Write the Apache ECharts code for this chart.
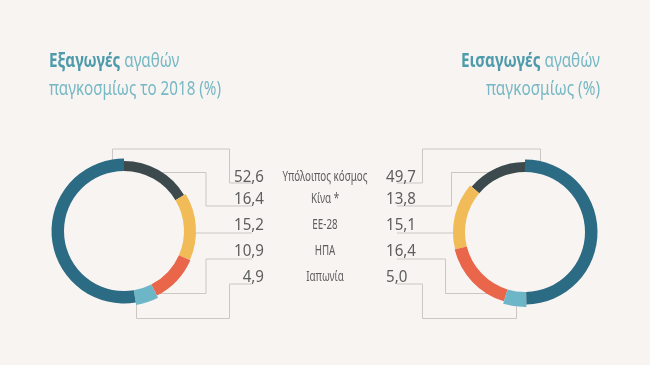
<!DOCTYPE html>
<html><head><meta charset="utf-8">
<script src="https://cdn.jsdelivr.net/npm/echarts@6/dist/echarts.min.js"></script>
<style>html,body{margin:0;padding:0;background:#f7f4f2;}#c{width:650px;height:365px;}</style>
</head><body><div id="c"></div>
<script>
// ---- data ----
var categories = ['Υπόλοιπος κόσμος', 'Κίνα *', 'ΕΕ-28', 'ΗΠΑ', 'Ιαπωνία'];
var exportsShare = [52.6, 16.4, 15.2, 10.9, 4.9];
var importsShare = [49.7, 13.8, 15.1, 16.4, 5.0];
var exportLabels = ['52,6', '16,4', '15,2', '10,9', '4,9'];
var importLabels = ['49,7', '13,8', '15,1', '16,4', '5,0'];
var leftTitle = ['Εξαγωγές', ' αγαθών', 'παγκοσμίως το 2018 (%)'];
var rightTitle = ['Εισαγωγές', ' αγαθών', 'παγκοσμίως (%)'];
var colors = ['#2c6b84', '#3c4a4d', '#f1bc58', '#e9664a', '#6db6c8'];
// order of slices going from 12 o'clock (clockwise left, anticlockwise right)
var sliceOrder = [1, 2, 3, 4, 0];
var outerR = [72.5, 70, 72, 72.5, 75];
var innerR = 60;

var LC = [124, 231], RC = [525, 232];
var rowY = [177, 199, 225, 251, 277];
var underY = [183, 206, 233, 259, 284];
var lineColor = '#cbc7c4';
var FAM = '"Noto Sans", "Open Sans", sans-serif';
var numFont = '16.5px ' + FAM;
var catFont = '14px ' + FAM;
var tNormal = '20px ' + FAM;
var tBold = 'bold 20px ' + FAM;

var ctx = document.createElement('canvas').getContext('2d');
function tw(text, font) { ctx.font = font; return ctx.measureText(text).width; }

var numScale = 30 / tw('52,6', numFont);
var catScale = 85 / tw(categories[0], catFont);
var ltScale = 172 / tw(leftTitle[2], tNormal);
var rtScale = 114 / tw(rightTitle[2], tNormal);

function buildSeries(values, center, clockwise) {
  var out = [];
  sliceOrder.forEach(function (catIdx) {
    out.push({
      type: 'pie', center: center, radius: [innerR, outerR[catIdx]],
      startAngle: 90, clockwise: clockwise, silent: true, animation: false,
      label: { show: false }, labelLine: { show: false },
      emphasis: { disabled: true },
      data: sliceOrder.map(function (ci) {
        return { name: categories[ci], value: values[ci],
          itemStyle: { color: ci === catIdx ? colors[ci] : 'rgba(0,0,0,0)' } };
      })
    });
  });
  return out;
}

function ry(c, x, sgn) { var r = 66; return c[1] + sgn * Math.sqrt(r * r - (x - c[0]) * (x - c[0])); }
function rx(c, y, sgn) { var r = 66; return c[0] + sgn * Math.sqrt(r * r - (y - c[1]) * (y - c[1])); }
function pl(points) {
  return { type: 'polyline', shape: { points: points }, style: { stroke: lineColor, lineWidth: 1, fill: null }, silent: true };
}
function txt(x, y, s, text, font, fill, align) {
  return { type: 'text', x: x, y: y, scaleX: s, silent: true,
    style: { text: text, font: font, fill: fill, align: align, verticalAlign: 'middle' } };
}

var g = [];
// left leader lines
var lx1 = 229.5, lx2 = 206, lend = 252;
g.push(pl([[112.5, ry(LC, 112.5, -1)], [112.5, 149], [lx1, 149], [lx1, underY[0]], [lend, underY[0]]]));
g.push(pl([[rx(LC, 172.5, 1), 172.5], [lx2, 172.5], [lx2, underY[1]], [lend, underY[1]]]));
g.push(pl([[rx(LC, underY[2], 1), underY[2]], [lend, underY[2]]]));
g.push(pl([[rx(LC, 293.5, 1), 293.5], [lx2, 293.5], [lx2, underY[3]], [lend, underY[3]]]));
g.push(pl([[136.5, ry(LC, 136.5, 1)], [136.5, 318.5], [lx1, 318.5], [lx1, underY[4]], [lend, underY[4]]]));
// right leader lines
var rx1 = 422.5, rx2 = 451.5, rx3 = 445.5, rend = 397;
g.push(pl([[540.5, ry(RC, 540.5, -1)], [540.5, 149], [rx1, 149], [rx1, underY[0]], [rend, underY[0]]]));
g.push(pl([[rx(RC, 172.5, -1), 172.5], [rx2, 172.5], [rx2, underY[1]], [rend, underY[1]]]));
g.push(pl([[rx(RC, underY[2], -1), underY[2]], [rend, underY[2]]]));
g.push(pl([[rx(RC, 293.5, -1), 293.5], [rx3, 293.5], [rx3, underY[3]], [rend, underY[3]]]));
g.push(pl([[516.5, ry(RC, 516.5, 1)], [516.5, 318.5], [rx1, 318.5], [rx1, underY[4]], [rend, underY[4]]]));

categories.forEach(function (cat, i) {
  g.push(txt(264, rowY[i], numScale, exportLabels[i], numFont, '#5e5e5e', 'right'));
  g.push(txt(386, rowY[i], numScale, importLabels[i], numFont, '#5e5e5e', 'left'));
  g.push(txt(325, rowY[i], catScale, cat, catFont, '#5e5e5e', 'center'));
});

// titles
var boldC = '#4e9bab', normC = '#76b8c4';
var t1y = 61, t2y = 89;
var wb = tw(leftTitle[0], tBold);
g.push(txt(49, t1y, ltScale, leftTitle[0], tBold, boldC, 'left'));
g.push(txt(49 + wb * ltScale, t1y, ltScale, leftTitle[1], tNormal, normC, 'left'));
g.push(txt(49, t2y, ltScale, leftTitle[2], tNormal, normC, 'left'));
var wn = tw(rightTitle[1], tNormal);
g.push(txt(600 - wn * rtScale, t1y, rtScale, rightTitle[0], tBold, boldC, 'right'));
g.push(txt(600, t1y, rtScale, rightTitle[1], tNormal, normC, 'right'));
g.push(txt(600, t2y, rtScale, rightTitle[2], tNormal, normC, 'right'));

var chart = echarts.init(document.getElementById('c'), null, { renderer: 'canvas' });
chart.setOption({
  backgroundColor: '#f7f4f2',
  animation: false,
  graphic: g,
  series: buildSeries(exportsShare, LC, true).concat(buildSeries(importsShare, RC, false))
});
</script></body></html>
